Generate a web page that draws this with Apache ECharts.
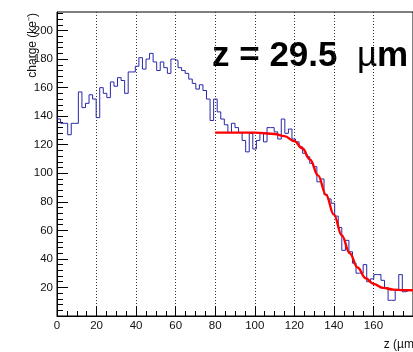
<!DOCTYPE html>
<html><head><meta charset="utf-8">
<script src="https://cdn.jsdelivr.net/npm/echarts@6/dist/echarts.min.js"></script>
<style>html,body{margin:0;padding:0;background:#fff}#c{width:413px;height:352px}</style>
</head><body><div id="c"></div>
<script>
// Histogram: charge per z bin (bin width 1.8 um, 0..180)
const binWidth = 1.8;
const charge = [
  138,135,135,127,135,135,157,146,149,155,
  152,139,160,156,153,164,161,167,165,156,
  171,171,175,181,173,180,184,178,172,178,
  174,170,180,179,174,172,170,166,163,159,
  162,158,152,137,152,143,138,134,128.5,135,
  132,128.5,123,115,128,117,123,128,122,132,
  132,129,124,138,128,131,124,122,118.5,114,
  111.6,107,104.6,94,96,85,82,79,70,62,
  46,53,45,37,30,30,36,24,26,29,
  29,25,20,11,11,18,29,17,18,18
];
// Fit curve
const fitZ = [80,100,110,115,120,124,128,132,136,140,144,148,152,156,160,165,170,175,180];
const fitQ = [128.5,128.5,127.5,126,122.5,117.5,109.5,98.5,85,71,56.5,44,34,26.5,22.5,19.7,18.5,18.1,18];
// Axis ticks
const xTicks = [0,20,40,60,80,100,120,140,160];
const yMajor = [20,40,60,80,100,120,140,160,180,200];
const yMinor = [4,8,12,16,24,28,32,36,44,48,52,56,64,68,72,76,84,88,92,96,104,108,112,116,124,128,132,136,144,148,152,156,164,168,172,176,184,188,192,196,204,208,212];
const labelText = 'z = 29.5  ';

const histData = charge.map((v, i) => [i * binWidth, v]);
histData.push([charge.length * binWidth, charge[charge.length - 1]]);
const fitData = fitZ.map((z, i) => [z, fitQ[i]]);

const chart = echarts.init(document.getElementById('c'), null, {renderer: 'canvas'});
const font = 'Liberation Sans, Arial, sans-serif';
chart.setOption({
  animation: false,
  backgroundColor: '#fff',
  grid: {left: 57, top: 12, right: -4, bottom: 36, show: true, borderColor: '#000', borderWidth: 1, backgroundColor: 'transparent'},
  xAxis: {
    type: 'value', min: 0, max: 180, interval: 20,
    axisLine: {show: true, onZero: false, lineStyle: {color: '#000', width: 1}},
    axisTick: {show: true, inside: true, length: 10, lineStyle: {color: '#000'}},
    minorTick: {show: true, splitNumber: 4, length: 5, lineStyle: {color: '#000'}},
    axisLabel: {color: '#111', fontFamily: font, fontSize: 11.5, margin: 4, customValues: xTicks},
    splitLine: {show: true, lineStyle: {color: '#333', width: 1, type: [1, 2]}}
  },
  yAxis: [{
    type: 'value', min: 0, max: 213,
    axisLine: {show: true, lineStyle: {color: '#000', width: 1}},
    axisTick: {show: true, inside: true, length: 11, customValues: yMajor, lineStyle: {color: '#000'}},
    axisLabel: {color: '#111', fontFamily: font, fontSize: 11.5, margin: 4, customValues: yMajor},
    splitLine: {show: false}
  }, {
    type: 'value', min: 0, max: 213, position: 'left',
    axisLine: {show: false},
    axisTick: {show: true, inside: true, length: 6, customValues: yMinor, lineStyle: {color: '#000'}},
    axisLabel: {show: false},
    splitLine: {show: false}
  }],
  graphic: [
    {type: 'text', x: 33, y: 13, rotation: Math.PI / 2,
     style: {text: 'charge (ke\u207b)', font: '12px ' + font, fill: '#111', align: 'right', verticalAlign: 'middle'}},
    {type: 'text', x: 418, y: 345,
     style: {text: 'z (\u00b5m)', font: '12px ' + font, fill: '#111', align: 'right', verticalAlign: 'middle'}},
    {type: 'text', x: 212, y: 56,
     style: {text: '{b|' + labelText + '}{m|\u00b5}{b|m}', verticalAlign: 'middle', align: 'left',
       rich: {b: {font: 'bold 35px ' + font, fill: '#000'}, m: {font: '35px ' + font, fill: '#000'}}}}
  ],
  series: [
    {type: 'line', data: histData, step: 'end', symbol: 'none', xAxisIndex: 0, yAxisIndex: 0,
     lineStyle: {color: '#2828aa', width: 1}, z: 3},
    {type: 'line', data: fitData, smooth: 0.4, smoothMonotone: 'x', symbol: 'none',
     lineStyle: {color: '#ff0000', width: 2.4}, z: 4}
  ]
});
</script></body></html>
